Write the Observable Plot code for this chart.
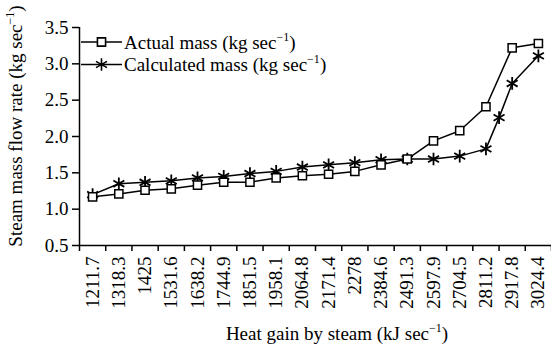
<!DOCTYPE html>
<html>
<head>
<meta charset="utf-8">
<script src="https://cdn.jsdelivr.net/npm/d3@7"></script>
<script src="https://cdn.jsdelivr.net/npm/@observablehq/plot@0.6"></script>
<style>
  html, body { margin: 0; padding: 0; background: #fff; }
  #chart svg { display: block; }
</style>
</head>
<body>
<div id="chart"></div>
<script>
// ---- data ----
const heatLabels = ["1211.7","1318.3","1425","1531.6","1638.2","1744.9","1851.5","1958.1","2064.8","2171.4","2278","2384.6","2491.3","2597.9","2704.5","2811.2","2917.8","3024.4"];
const actualPos = [0,1,2,3,4,5,6,7,8,9,10,11,12,13,14,15,16,17];
const actualMass = [1.17,1.21,1.26,1.28,1.33,1.37,1.37,1.43,1.46,1.48,1.52,1.61,1.69,1.94,2.08,2.41,3.22,3.28];
const calcPos = [0,1,2,3,4,5,6,7,8,9,10,11,12,13,14,15,15.5,16,17];
const calcMass = [1.20,1.35,1.37,1.39,1.43,1.45,1.49,1.52,1.58,1.61,1.64,1.68,1.69,1.69,1.73,1.83,2.26,2.73,3.11];
const yTicks = [0.5,1.0,1.5,2.0,2.5,3.0,3.5];
const xDomain = [-0.5, 17.5];
const xBoundaries = d3.range(xDomain[0], xDomain[1] + 0.001, 1);

const actual = actualPos.map((p, i) => ({x: p, y: actualMass[i]}));
const calc = calcPos.map((p, i) => ({x: p, y: calcMass[i]}));

const FONT = "Liberation Serif, Times New Roman, serif";

const svg = Plot.plot({
  width: 551,
  height: 355,
  marginLeft: 79,
  marginRight: 0,
  marginTop: 27,
  marginBottom: 110,
  style: {fontFamily: FONT, fontSize: "19px", color: "#000", background: "#fff"},
  x: {type: "linear", domain: xDomain, axis: null},
  y: {domain: [yTicks[0], yTicks[yTicks.length - 1]], axis: null},
  marks: [
    Plot.axisY({ticks: yTicks, tickFormat: d3.format(".1f"), tickSize: 7, tickPadding: 4, strokeWidth: 1.5, label: null, fontSize: 19}),
    Plot.axisX({ticks: xBoundaries, tickFormat: () => "", tickSize: 6, strokeWidth: 1.5, label: null}),
    Plot.axisX({ticks: actualPos, tickFormat: i => heatLabels[i], tickSize: 0, tickPadding: 11, tickRotate: -90, label: null, fontSize: 19}),
    Plot.ruleY([yTicks[0]], {stroke: "#000", strokeWidth: 1.5}),
    Plot.ruleX([xDomain[0]], {stroke: "#000", strokeWidth: 1.5}),
    Plot.line(actual, {x: "x", y: "y", stroke: "#000", strokeWidth: 1.5}),
    Plot.line(calc, {x: "x", y: "y", stroke: "#000", strokeWidth: 1.5}),
    Plot.dot(calc, {x: "x", y: "y", symbol: "asterisk", r: 6, stroke: "#000", strokeWidth: 1.8}),
    Plot.dot(actual, {x: "x", y: "y", symbol: "square", r: 4.6, fill: "#fff", stroke: "#000", strokeWidth: 1.5})
  ]
});

document.getElementById("chart").appendChild(svg);

// ---- axis titles and legend ----
const s = d3.select(svg);

function supText(sel, main, sup, tail) {
  sel.append("tspan").text(main);
  sel.append("tspan").attr("dy", -8).attr("font-size", 12).text(sup);
  sel.append("tspan").attr("dy", 8).text(tail);
}

const xt = s.append("text")
  .attr("x", 337).attr("y", 340)
  .attr("text-anchor", "middle")
  .attr("font-family", FONT).attr("font-size", 19).attr("fill", "#000");
supText(xt, "Heat gain by steam (kJ sec", "\u22121", ")");

const yt = s.append("text")
  .attr("transform", "translate(22,126) rotate(-90)")
  .attr("text-anchor", "middle")
  .attr("font-family", FONT).attr("font-size", 19).attr("fill", "#000");
supText(yt, "Steam mass flow rate (kg sec", "\u22121", ")");

const legendItems = [
  {label: "Actual mass (kg sec", symbol: d3.symbolSquare, fill: "#fff", size: Math.PI * 4.6 * 4.6},
  {label: "Calculated mass (kg sec", symbol: d3.symbolAsterisk, fill: "none", size: Math.PI * 6 * 6}
];
legendItems.forEach((it, i) => {
  const y = 42 + i * 22.5;
  const g = s.append("g");
  g.append("line").attr("x1", 81).attr("x2", 122).attr("y1", y).attr("y2", y)
    .attr("stroke", "#000").attr("stroke-width", 1.5);
  g.append("path").attr("d", d3.symbol(it.symbol, it.size)())
    .attr("transform", `translate(101.5,${y})`)
    .attr("fill", it.fill).attr("stroke", "#000").attr("stroke-width", 1.6);
  const t = g.append("text").attr("x", 124).attr("y", y).attr("dy", "0.35em")
    .attr("text-anchor", "start")
    .attr("font-family", FONT).attr("font-size", 19).attr("fill", "#000");
  supText(t, it.label, "\u22121", ")");
});
</script>
</body>
</html>
